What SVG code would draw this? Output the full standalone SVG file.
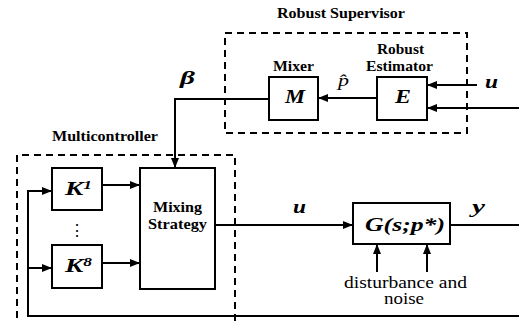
<svg xmlns="http://www.w3.org/2000/svg" width="519" height="322" viewBox="0 0 519 322">
<style>
  .bg { fill: #ffffff; }
  .box { fill: #ffffff; stroke: #000; stroke-width: 2; }
  .dash { fill: none; stroke: #000; stroke-width: 2; stroke-dasharray: 7 5; }
  .ln { fill: none; stroke: #000; stroke-width: 2; }
  .lbl { font-family: "Liberation Serif", "Times New Roman", serif; font-weight: bold; font-size: 14px; fill: #000; }
  .txt { font-family: "Liberation Serif", "Times New Roman", serif; font-size: 16px; fill: #000; }
  .math { font-family: "Liberation Serif", "Times New Roman", serif; font-weight: bold; font-style: italic; font-size: 19px; fill: #000; }
  .mi { font-family: "Liberation Serif", "Times New Roman", serif; font-style: italic; font-size: 17px; fill: #000; }
</style>
<defs>
  <marker id="ah" markerWidth="10" markerHeight="8" refX="10" refY="4" orient="auto" markerUnits="userSpaceOnUse">
    <path d="M0,0 L10,4 L0,8 z" fill="#000"/>
  </marker>
</defs>
<rect class="bg" x="0" y="0" width="519" height="322"/>

<g id="supervisor">
  <rect class="dash" x="225" y="33" width="242" height="100"/>
  <text class="lbl" x="277" y="18" textLength="128" lengthAdjust="spacingAndGlyphs">Robust Supervisor</text>
</g>
<g id="multicontroller">
  <path class="dash" d="M17,330 V155 H235 V330"/>
  <text class="lbl" x="52" y="141" textLength="106" lengthAdjust="spacingAndGlyphs">Multicontroller</text>
</g>

<g id="connectors">
  <line class="ln" x1="377" y1="98" x2="318" y2="98" marker-end="url(#ah)"/>
  <path class="ln" d="M269,99 H175 V168" marker-end="url(#ah)"/>
  <line class="ln" x1="477" y1="85" x2="427" y2="85" marker-end="url(#ah)"/>
  <line class="ln" x1="519" y1="108" x2="427" y2="108" marker-end="url(#ah)"/>
  <line class="ln" x1="102" y1="185" x2="140" y2="185" marker-end="url(#ah)"/>
  <line class="ln" x1="102" y1="263" x2="140" y2="263" marker-end="url(#ah)"/>
  <line class="ln" x1="215" y1="225" x2="353" y2="225" marker-end="url(#ah)"/>
  <line class="ln" x1="450" y1="225" x2="519" y2="225"/>
  <path class="ln" d="M519,316 H28 V191 H52" marker-end="url(#ah)"/>
  <line class="ln" x1="28" y1="268" x2="52" y2="268" marker-end="url(#ah)"/>
  <line class="ln" x1="377" y1="272" x2="377" y2="244" marker-end="url(#ah)"/>
  <line class="ln" x1="427" y1="272" x2="427" y2="244" marker-end="url(#ah)"/>
  <text class="math" x="180" y="84" font-size="17" textLength="15" lengthAdjust="spacingAndGlyphs">β</text>
  <text class="mi" x="338" y="86" textLength="11" lengthAdjust="spacingAndGlyphs">p̂</text>
  <text class="math" x="485" y="88" font-size="17" textLength="13" lengthAdjust="spacingAndGlyphs">u</text>
  <text class="math" x="293" y="213" font-size="17" textLength="13" lengthAdjust="spacingAndGlyphs">u</text>
  <text class="math" x="472" y="213" font-size="17" textLength="13" lengthAdjust="spacingAndGlyphs">y</text>
  <text class="txt" x="344" y="288" textLength="123" lengthAdjust="spacingAndGlyphs">disturbance and</text>
  <text class="txt" x="384" y="304" textLength="40" lengthAdjust="spacingAndGlyphs">noise</text>
</g>

<g id="mixer">
  <rect class="box" x="269" y="77" width="49" height="43"/>
  <text class="math" x="285" y="103" textLength="20" lengthAdjust="spacingAndGlyphs">M</text>
  <text class="lbl" x="273" y="71" textLength="41" lengthAdjust="spacingAndGlyphs">Mixer</text>
</g>
<g id="estimator">
  <rect class="box" x="377" y="77" width="50" height="43"/>
  <text class="math" x="395" y="103" textLength="16" lengthAdjust="spacingAndGlyphs">E</text>
  <text class="lbl" x="377" y="54" textLength="47" lengthAdjust="spacingAndGlyphs">Robust</text>
  <text class="lbl" x="366" y="71" textLength="67" lengthAdjust="spacingAndGlyphs">Estimator</text>
</g>
<g id="k1">
  <rect class="box" x="52" y="168" width="50" height="42"/>
  <text class="math" x="65" y="195" textLength="27" lengthAdjust="spacingAndGlyphs">K<tspan font-size="12" dy="-6">1</tspan></text>
</g>
<g id="dots">
  <text class="txt" x="77" y="236" text-anchor="middle" font-size="11" style="font-family:'DejaVu Serif',serif">⋮</text>
</g>
<g id="k8">
  <rect class="box" x="52" y="245" width="50" height="43"/>
  <text class="math" x="65" y="272" textLength="27" lengthAdjust="spacingAndGlyphs">K<tspan font-size="12" dy="-6">8</tspan></text>
</g>
<g id="mixing-strategy">
  <rect class="box" x="140" y="168" width="75" height="121"/>
  <text class="lbl" x="153" y="212" textLength="49" lengthAdjust="spacingAndGlyphs">Mixing</text>
  <text class="lbl" x="148" y="229" textLength="59" lengthAdjust="spacingAndGlyphs">Strategy</text>
</g>
<g id="plant">
  <rect class="box" x="353" y="203" width="97" height="41"/>
  <text class="math" x="365" y="231" font-size="18" textLength="80" lengthAdjust="spacingAndGlyphs">G(s;p*)</text>
</g>
</svg>
